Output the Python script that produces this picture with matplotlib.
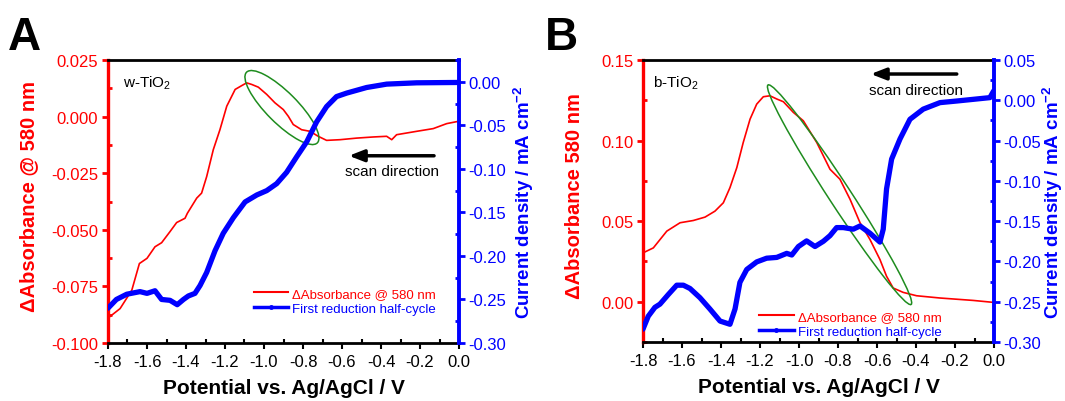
import matplotlib
matplotlib.use('Agg')
import matplotlib.pyplot as plt
import matplotlib.transforms as mtransforms
from matplotlib.patches import Ellipse
from matplotlib.lines import Line2D
from matplotlib.ticker import MultipleLocator, FormatStrFormatter

plt.rcParams['font.family'] = ['Liberation Sans', 'DejaVu Sans']
plt.rcParams['mathtext.fontset'] = 'custom'
plt.rcParams['mathtext.rm'] = 'Liberation Sans'
plt.rcParams['mathtext.bf'] = 'Liberation Sans:bold'
plt.rcParams['axes.unicode_minus'] = False

# ---------------- Panel A (w-TiO2) ----------------
a_abs_x = [-1.8, -1.738, -1.678, -1.639, -1.60, -1.559, -1.525, -1.482, -1.448, -1.405, -1.393,
           -1.345, -1.320, -1.294, -1.26, -1.226, -1.191, -1.148, -1.114, -1.089, -1.063, -1.029,
           -0.986, -0.944, -0.901, -0.875, -0.850, -0.807, -0.764, -0.722, -0.679, -0.610, -0.525,
           -0.440, -0.371, -0.345, -0.320, -0.217, -0.132, -0.063, -0.004]
a_abs_y = [-0.089, -0.0848, -0.0767, -0.0649, -0.0626, -0.0575, -0.0557, -0.0508, -0.0468, -0.0449, -0.0427,
           -0.0360, -0.0338, -0.0265, -0.0146, -0.0058, 0.0046, 0.0120, 0.0137, 0.0149, 0.0142, 0.0130,
           0.0098, 0.0061, 0.0031, 0.0001, -0.0035, -0.0058, -0.0065, -0.0087, -0.0105, -0.0102, -0.0095,
           -0.0090, -0.0087, -0.0102, -0.0080, -0.0065, -0.0053, -0.0031, -0.0021]
a_cur_x = [-1.8, -1.757, -1.704, -1.636, -1.60, -1.559, -1.525, -1.482, -1.445, -1.413, -1.388,
           -1.354, -1.328, -1.294, -1.251, -1.209, -1.157, -1.097, -1.037, -0.986, -0.935, -0.884,
           -0.832, -0.781, -0.730, -0.679, -0.628, -0.576, -0.474, -0.371, -0.217, -0.004]
a_cur_y = [-0.260, -0.250, -0.244, -0.241, -0.243, -0.240, -0.250, -0.251, -0.256, -0.250, -0.246,
           -0.243, -0.234, -0.219, -0.194, -0.174, -0.156, -0.138, -0.130, -0.125, -0.117, -0.104,
           -0.086, -0.069, -0.046, -0.0285, -0.017, -0.013, -0.0066, -0.0027, -0.0012, -0.0008]

# ---------------- Panel B (b-TiO2) ----------------
b_abs_x = [-1.8, -1.747, -1.678, -1.61, -1.542, -1.482, -1.431, -1.388, -1.354, -1.319, -1.286,
           -1.251, -1.217, -1.183, -1.149, -1.114, -1.080, -1.029, -0.978, -0.909, -0.841, -0.790,
           -0.738, -0.687, -0.636, -0.585, -0.551, -0.517, -0.466, -0.397, -0.277, -0.107, -0.004]
b_abs_y = [0.0303, 0.0334, 0.0438, 0.0490, 0.0504, 0.0525, 0.0562, 0.0614, 0.0708, 0.0832, 0.0988,
           0.1133, 0.1226, 0.1272, 0.1278, 0.1258, 0.1241, 0.1175, 0.1123, 0.0988, 0.0822, 0.0760,
           0.0635, 0.0490, 0.0386, 0.0262, 0.0158, 0.0085, 0.0058, 0.0037, 0.0023, 0.0008, -0.0004]
b_cur_x = [-1.8, -1.773, -1.739, -1.713, -1.670, -1.627, -1.593, -1.559, -1.508, -1.457, -1.405,
           -1.354, -1.328, -1.303, -1.268, -1.217, -1.166, -1.114, -1.063, -1.037, -1.003, -0.961,
           -0.918, -0.875, -0.841, -0.807, -0.773, -0.722, -0.687, -0.636, -0.585, -0.568, -0.551,
           -0.525, -0.482, -0.431, -0.363, -0.277, -0.191, -0.106, -0.021, -0.002]
b_cur_y = [-0.284, -0.268, -0.257, -0.253, -0.241, -0.2295, -0.2295, -0.2336, -0.245, -0.259, -0.274,
           -0.278, -0.259, -0.226, -0.210, -0.2006, -0.196, -0.195, -0.190, -0.192, -0.1815, -0.1745,
           -0.1815, -0.175, -0.168, -0.158, -0.158, -0.160, -0.156, -0.165, -0.176, -0.160, -0.110,
           -0.073, -0.048, -0.0236, -0.011, -0.0029, -0.0009, 0.0012, 0.0033, 0.0115]

RED = '#ff0000'
BLUE = '#0000ff'
GREEN = '#1e8c1e'

fig = plt.figure(figsize=(10.65, 4.02), dpi=100)
W, H = 1065.0, 402.0


def make_panel(left_px, top_px, bottom_px, abs_x, abs_y, cur_x, cur_y,
               ylim_l, ylim_r, maj_l, maj_r, fmt_l, fmt_r, ylabel_l, sample,
               sample_xy, arrow_xy, text_xy, ell, leg_anchor, letter, letter_xy,
               lab_l_x, lab_r_x):
    ax = fig.add_axes([left_px / W, (H - bottom_px) / H, 351 / W, (bottom_px - top_px) / H])
    ax2 = ax.twinx()
    ax.plot(abs_x, abs_y, color=RED, lw=1.2)
    ax2.plot(cur_x, cur_y, color=BLUE, lw=3.8, solid_capstyle='round',
             solid_joinstyle='round')
    ax.set_xlim(-1.8, 0.0)
    ax.set_ylim(*ylim_l)
    ax2.set_ylim(*ylim_r)
    ax.xaxis.set_major_locator(MultipleLocator(0.2))
    ax.xaxis.set_minor_locator(MultipleLocator(0.1))
    ax.xaxis.set_major_formatter(FormatStrFormatter('%.1f'))
    ax.yaxis.set_major_locator(MultipleLocator(maj_l))
    ax.yaxis.set_minor_locator(MultipleLocator(maj_l / 2))
    ax.yaxis.set_major_formatter(FormatStrFormatter(fmt_l))
    ax2.yaxis.set_major_locator(MultipleLocator(maj_r))
    ax2.yaxis.set_minor_locator(MultipleLocator(maj_r / 2))
    ax2.yaxis.set_major_formatter(FormatStrFormatter(fmt_r))

    # spines
    ax.spines['right'].set_visible(False)
    ax2.spines['left'].set_visible(False)
    ax2.spines['top'].set_visible(False)
    ax2.spines['bottom'].set_visible(False)
    ax.spines['left'].set_color(RED)
    ax.spines['left'].set_linewidth(2.4)
    ax2.spines['right'].set_color(BLUE)
    ax2.spines['right'].set_linewidth(2.8)
    ax.spines['top'].set_linewidth(2.0)
    ax.spines['bottom'].set_linewidth(2.0)

    ax.tick_params(axis='x', which='major', direction='out', length=4, width=1.5,
                   labelsize=12, pad=4, top=False)
    ax.tick_params(axis='x', which='minor', direction='in', length=3, width=1.5, top=False)
    ax.tick_params(axis='y', which='major', direction='out', length=4, width=2,
                   color=RED, labelcolor=RED, labelsize=12, pad=3)
    ax.tick_params(axis='y', which='minor', direction='in', length=3, width=2, color=RED)
    ax2.tick_params(axis='y', which='major', direction='out', length=4, width=2,
                    color=BLUE, labelcolor=BLUE, labelsize=12, pad=3)
    ax2.tick_params(axis='y', which='minor', direction='in', length=3, width=2, color=BLUE)

    ax.set_xlabel('Potential vs. Ag/AgCl / V', fontsize=15, fontweight='bold')
    ax.xaxis.set_label_coords(0.5, -0.125)
    ax.set_ylabel(ylabel_l, fontsize=14.5, fontweight='bold', color=RED)
    ax.yaxis.set_label_coords(lab_l_x, 0.52)
    ax2.set_ylabel('Current density / mA cm$^{\\mathbf{-2}}$', fontsize=13.5,
                   fontweight='bold', color=BLUE, rotation=90)
    ax2.yaxis.set_label_coords(lab_r_x, 0.5)

    ax.text(sample_xy[0], sample_xy[1], sample, fontsize=11, ha='left', va='center')
    ax.annotate('', xy=arrow_xy[1], xytext=arrow_xy[0],
                arrowprops=dict(arrowstyle='-|>,head_length=0.9,head_width=0.35',
                                color='black', lw=2.5, shrinkA=0, shrinkB=0))
    ax.text(text_xy[0], text_xy[1], 'scan direction', fontsize=11, ha='center', va='center')

    cx, cy, w_in, h_in, ang = ell
    tr = fig.dpi_scale_trans + mtransforms.ScaledTranslation(cx, cy, ax.transData)
    ax.add_patch(Ellipse((0, 0), w_in, h_in, angle=ang, transform=tr, fill=False,
                         edgecolor=GREEN, lw=1.1, zorder=5))

    handles = [Line2D([], [], color=RED, lw=1.5),
               Line2D([], [], color=BLUE, lw=2.5, marker='o', markersize=2.5)]
    ax2.legend(handles, ['\u0394Absorbance @ 580 nm', 'First reduction half-cycle'],
               loc='lower right', bbox_to_anchor=leg_anchor, frameon=False,
               fontsize=9.5, labelcolor=[RED, BLUE], handlelength=2.6,
               handletextpad=0.3, labelspacing=0.2, borderpad=0, borderaxespad=0)
    fig.text(letter_xy[0] / W, 1 - letter_xy[1] / H, letter, fontsize=33,
             fontweight='bold', ha='left', va='top')
    return ax, ax2


make_panel(108, 61, 344, a_abs_x, a_abs_y, a_cur_x, a_cur_y,
           (-0.100, 0.025), (-0.30, 0.025), 0.025, 0.05, '%.3f', '%.2f',
           '\u0394Absorbance @ 580 nm', 'w-TiO$_2$', (-1.725, 0.0151),
           ((-0.128, -0.0173), (-0.565, -0.0173)), (-0.345, -0.0242),
           (-0.908, 0.004, 1.0, 0.31, -45), (0.935, 0.10), 'A', (8, 16),
           -0.20, 1.15)

make_panel(643, 61, 343, b_abs_x, b_abs_y, b_cur_x, b_cur_y,
           (-0.025, 0.15), (-0.30, 0.05), 0.05, 0.05, '%.2f', '%.2f',
           '\u0394Absorbance 580 nm', 'b-TiO$_2$', (-1.749, 0.1361),
           ((-0.191, 0.1413), (-0.632, 0.1413)), (-0.402, 0.1316),
           (-0.792, 0.0664, 2.62, 0.22, -56.9), (0.85, 0.015), 'B', (545, 16),
           -0.168, 1.132)

fig.savefig('out.png', dpi=100)
